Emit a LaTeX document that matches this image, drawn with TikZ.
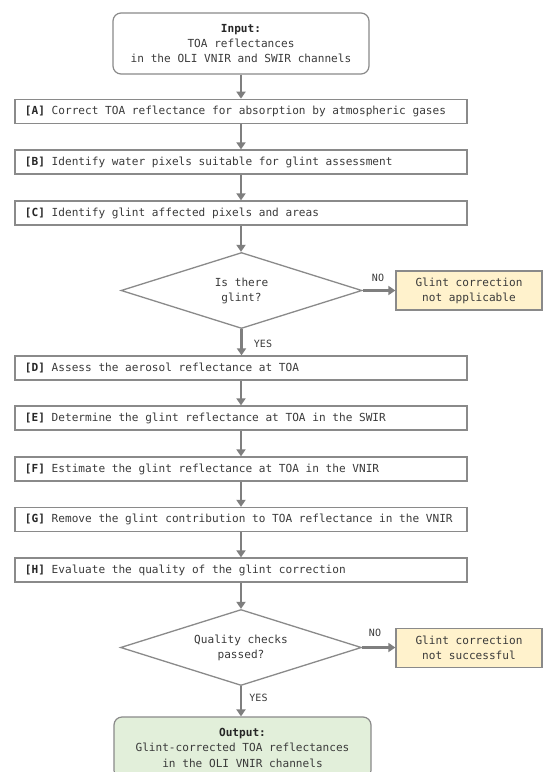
\documentclass[tikz,border=0pt]{standalone}
\usepackage{fontspec}
\setmainfont{DejaVu Sans Mono}
\usetikzlibrary{shapes.geometric,arrows.meta}
\definecolor{boxline}{HTML}{8A8A8A}
\definecolor{arrowc}{HTML}{7F7F7F}
\definecolor{txt}{HTML}{3A3A3A}
\definecolor{yellowfill}{HTML}{FFF2CC}
\definecolor{greenfill}{HTML}{E2EFDA}
\tikzset{
  stepbox/.style={draw=boxline, line width=1.3bp, rectangle, minimum height=24bp,
    minimum width=452bp, inner xsep=10bp, inner ysep=0bp,
    font=\fontsize{11.1bp}{15bp}\selectfont, text=txt},
  endbox/.style={draw=boxline, line width=1.2bp, rectangle, rounded corners=8bp,
    align=center, inner sep=0bp, font=\fontsize{11.1bp}{15.3bp}\selectfont, text=txt},
  sidebox/.style={draw=boxline, line width=1.3bp, rectangle, fill=yellowfill,
    minimum width=146bp, minimum height=39bp, align=center, inner sep=0bp,
    font=\fontsize{11.1bp}{15bp}\selectfont, text=txt},
  decision/.style={draw=boxline, line width=1.3bp, diamond, aspect=3.17,
    minimum width=241bp, minimum height=76bp, inner sep=0bp, align=center,
    font=\fontsize{11.1bp}{15bp}\selectfont, text=txt},
  arr/.style={draw=arrowc, line width=2.4bp, -{Triangle[length=7bp,width=9bp]}},
  lbl/.style={font=\fontsize{10bp}{12bp}\selectfont, text=txt, inner sep=0bp},
}
\newcommand{\steptext}[2]{\makebox[432bp][l]{\textbf{\color{black!85}[#1]} #2}}
\begin{document}
\begin{tikzpicture}[x=1bp,y=-1bp]
\useasboundingbox (0,0) rectangle (543,772);
\clip (0,0) rectangle (543,772);
\fill[white] (0,0) rectangle (543,772);

\node[endbox, minimum width=256bp, minimum height=61bp] (in) at (241,43.5)
  {\textbf{\color{black!85}Input:}\\TOA reflectances\\in the OLI VNIR and SWIR channels};

\node[stepbox] (A) at (241,111.3) {\steptext{A}{Correct TOA reflectance for absorption by atmospheric gases}};
\node[stepbox] (B) at (241,162) {\steptext{B}{Identify water pixels suitable for glint assessment}};
\node[stepbox] (C) at (241,213) {\steptext{C}{Identify glint affected pixels and areas}};

\node[decision] (d1) at (241.5,290.5) {Is there\\glint?};
\node[sidebox] (n1) at (469,290.5) {Glint correction\\not applicable};

\node[stepbox] (D) at (241,368) {\steptext{D}{Assess the aerosol reflectance at TOA}};
\node[stepbox] (E) at (241,418) {\steptext{E}{Determine the glint reflectance at TOA in the SWIR}};
\node[stepbox] (F) at (241,469) {\steptext{F}{Estimate the glint reflectance at TOA in the VNIR}};
\node[stepbox] (G) at (241,519.5) {\steptext{G}{Remove the glint contribution to TOA reflectance in the VNIR}};
\node[stepbox] (H) at (241,570) {\steptext{H}{Evaluate the quality of the glint correction}};

\node[decision] (d2) at (241,647.5) {Quality checks\\passed?};
\node[sidebox] (n2) at (469,648) {Glint correction\\not successful};

\node[endbox, fill=greenfill, minimum width=257bp, minimum height=61.4bp] (out) at (242.5,747.7)
  {\textbf{\color{black!85}Output:}\\Glint-corrected TOA reflectances\\in the OLI VNIR channels};

\draw[arr] (in.south) -- (in.south |- A.north);
\draw[arr] (A.south) -- (B.north);
\draw[arr] (B.south) -- (C.north);
\draw[arr] (C.south) -- (C.south |- d1.north);
\draw[arr] (d1.south) -- (d1.south |- D.north);
\draw[arr] (d1.east) -- (n1.west);
\draw[arr] (D.south) -- (E.north);
\draw[arr] (E.south) -- (F.north);
\draw[arr] (F.south) -- (G.north);
\draw[arr] (G.south) -- (H.north);
\draw[arr] (H.south) -- (H.south |- d2.north);
\draw[arr] (d2.south) -- (d2.south |- out.north);
\draw[arr] (d2.east) -- (d2.east -| n2.west);

\node[lbl] (no1) at (378,278) {NO};
\node[lbl] (yes1) at (263,344) {YES};
\node[lbl] (no2) at (375,633) {NO};
\node[lbl] (yes2) at (258.5,698) {YES};
\end{tikzpicture}
\end{document}
